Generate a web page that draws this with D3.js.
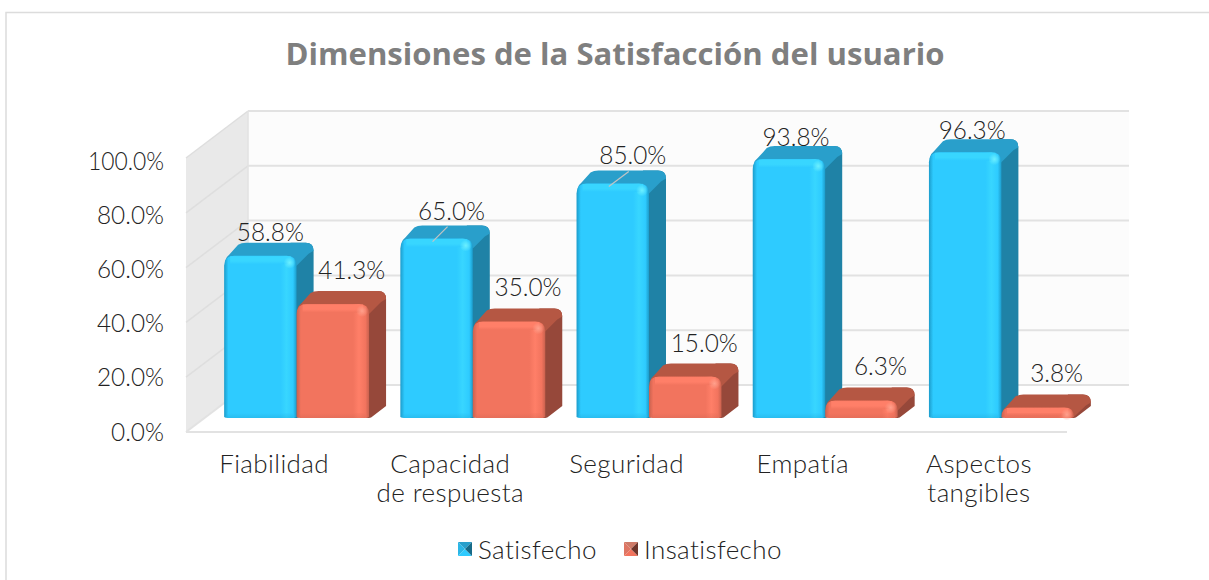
<!DOCTYPE html>
<html><head><meta charset="utf-8">
<script src="https://cdn.jsdelivr.net/npm/d3@7/dist/d3.min.js"></script>
<style>html,body{margin:0;padding:0;background:#fff}svg{display:block}text{font-family:Lato,"Open Sans",sans-serif;font-weight:300}</style>
</head><body><div id="c"></div>
<script>
const categories = [["Fiabilidad"],["Capacidad","de respuesta"],["Seguridad"],["Empatía"],["Aspectos","tangibles"]];
const satisfecho = [58.8,65.0,85.0,93.8,96.3];
const insatisfecho = [41.3,35.0,15.0,6.3,3.8];
const yTicks = [0,20,40,60,80,100];
const seriesNames = ["Satisfecho","Insatisfecho"];
const chartTitle = "Dimensiones de la Satisfacción del usuario";

const W=1209,H=580;
const ink="#222222";
const svg=d3.select("#c").append("svg").attr("width",W).attr("height",H);
const defs=svg.append("defs");
const palette=[
 {edge:"#1c9ccb",main:"#2ecbff",hi:"#38d6ff",top:"#299fcb",side:"#1f82a6",corner:"#6cf0ff",topHi:"#2aa9d6"},
 {edge:"#c9614e",main:"#f2745e",hi:"#ff7f68",top:"#b55743",side:"#96483a",corner:"#ffa08c",topHi:"#c25f4a"}];
palette.forEach((p,i)=>{
  const g=defs.append("linearGradient").attr("id","f"+i);
  [[0,p.edge],[.06,p.main],[.78,p.main],[.86,p.hi],[.95,p.main],[1,p.edge]].forEach(s=>g.append("stop").attr("offset",s[0]).attr("stop-color",s[1]));
  const t=defs.append("linearGradient").attr("id","t"+i).attr("x1",0).attr("x2",0).attr("y1",0).attr("y2",1);
  t.append("stop").attr("offset",0).attr("stop-color",p.hi);
  t.append("stop").attr("offset",.6).attr("stop-color",p.hi);
  t.append("stop").attr("offset",1).attr("stop-color",p.main);
  const b=defs.append("linearGradient").attr("id","b"+i).attr("x1",0).attr("x2",0).attr("y1",0).attr("y2",1);
  b.append("stop").attr("offset",0).attr("stop-color",p.main);
  b.append("stop").attr("offset",1).attr("stop-color",p.edge);
  defs.append("radialGradient").attr("id","c"+i).call(r=>{
    r.append("stop").attr("offset",0).attr("stop-color",p.corner);
    r.append("stop").attr("offset",1).attr("stop-color",p.corner).attr("stop-opacity",0);
  });
});

svg.append("rect").attr("x",6).attr("y",12.5).attr("width",W+10).attr("height",H+10).attr("fill","#fff").attr("stroke","#dcdcdc").attr("stroke-width",1.5);

svg.append("text").attr("x",615).attr("y",65).attr("text-anchor","middle").attr("font-size",31)
  .style("font-weight",700).attr("fill","#7f7f7f").attr("textLength",659).attr("lengthAdjust","spacingAndGlyphs").style("font-family","'Open Sans',sans-serif").text(chartTitle);

// Geometry of the 3D box
const wallDx=62,wallDy=47;
const y=d3.scaleLinear().domain([0,100]).range([432,158]);
const yLabel=d3.scaleLinear().domain([0,100]).range([440.5,169.5]);
const x0=186,x1=1067;
const xLabel=d3.scaleBand().domain(d3.range(categories.length)).range([x0,x1]);

const wall=svg.append("g");
wall.append("rect").attr("x",x0+wallDx).attr("y",y(100)-wallDy).attr("width",x1-x0).attr("height",y(0)-y(100)).attr("fill","#fcfcfc");
wall.append("path").attr("d",`M${x0},${y(0)}L${x0},${y(100)}L${x0+wallDx},${y(100)-wallDy}L${x0+wallDx},${y(0)-wallDy}Z`).attr("fill","#e9e9e9");
const gridCol="#e2e2e2";
yTicks.forEach(t=>{
  wall.append("line").attr("x1",x0+wallDx).attr("x2",x1+wallDx).attr("y1",y(t)-wallDy).attr("y2",y(t)-wallDy).attr("stroke",gridCol).attr("stroke-width",2);
  wall.append("line").attr("x1",x0).attr("x2",x0+wallDx).attr("y1",y(t)).attr("y2",y(t)-wallDy).attr("stroke",t?"#dedede":gridCol).attr("stroke-width",t?1.5:2);
});
wall.append("line").attr("x1",x0+wallDx).attr("x2",x0+wallDx).attr("y1",y(100)-wallDy).attr("y2",y(0)-wallDy).attr("stroke",gridCol).attr("stroke-width",1.5);
wall.append("line").attr("x1",x0).attr("x2",x1).attr("y1",y(0)).attr("y2",y(0)).attr("stroke",gridCol).attr("stroke-width",2);

// Percent text: tall glyphs squeezed to the reference's narrower widths
const pct=d=>d.toFixed(1)+"%";
const pctLen=s=>({4:53,5:67,6:76})[s.length];
function pctText(sel,s){
  sel.attr("font-size",25.5).attr("fill",ink).attr("textLength",pctLen(s)).attr("lengthAdjust","spacingAndGlyphs").text(s);
}

// Y tick labels
yTicks.forEach(d=>{
  svg.append("text").attr("x",164).attr("y",yLabel(d)).attr("text-anchor","end").call(pctText,pct(d));
});

// Bars
const barX=d3.scaleBand().domain(d3.range(categories.length)).range([208.5,1089.5]).paddingInner(.1775).paddingOuter(.08875);
const sub=d3.scaleBand().domain([0,1]).range([0,barX.bandwidth()]);
const barH=d3.scaleLinear().domain([0,100]).range([418,142]);
const dx=17,dy=13,r=10;
const series=[satisfecho,insatisfecho];
const bars=svg.append("g");
categories.forEach((c,ci)=>{
  series.forEach((vals,si)=>{
    const p=palette[si], v=vals[ci];
    const L=barX(ci)+sub(si), w=sub.bandwidth(), R=L+w, T=barH(v), B=barH(0);
    const g=bars.append("g");
    const rr=Math.min(r,(B-T)*.9);
    const rb=Math.min(8,(B-T)*.9+2);
    // side
    g.append("path").attr("d",`M${R-3},${T+4}L${R-3},${B}L${R},${B}Q${R+2},${B} ${R+4},${B-2}L${R+dx},${B-dy+1}L${R+dx},${T-dy+rb}Q${R+dx},${T-dy} ${R+dx-rb},${T-dy}L${R-6},${T-dy}Z`).attr("fill",p.side);
    // top
    g.append("path").attr("d",`M${L+1},${T+5}Q${L+2},${T+1} ${L+5},${T-1}L${L+dx-3},${T-dy+2}Q${L+dx},${T-dy} ${L+dx+5},${T-dy}L${R+dx-rb},${T-dy}Q${R+dx},${T-dy} ${R+dx},${T-dy+rb}L${R+dx-5},${T-dy+rb+3}L${R},${T+rr}L${L+rr},${T+rr}Z`).attr("fill",p.top);
    // front body
    g.append("path").attr("d",`M${L},${B-1}L${L},${T+rr}Q${L},${T} ${L+rr},${T}L${R-rr},${T}Q${R},${T} ${R},${T+rr}L${R},${B-1}Q${R-1},${B} ${R-4},${B}L${L+4},${B}Q${L+1},${B} ${L},${B-1}Z`).attr("fill",`url(#f${si})`);
    // top bevel
    g.append("rect").attr("x",L+rr*.6).attr("y",T+.5).attr("width",w-rr*1.2).attr("height",Math.min(rr*.8,8)).attr("fill",`url(#t${si})`);
    // bottom bevel
    g.append("rect").attr("x",L+3).attr("y",B-5).attr("width",w-6).attr("height",5).attr("fill",`url(#b${si})`).attr("opacity",.3);
    // corner highlight
    g.append("circle").attr("cx",R-7).attr("cy",T+7).attr("r",6).attr("fill",`url(#c${si})`);
  });
});

// Manually placed data labels: [x shift from front-centre of bar, baseline shift from bar top]
const labelOffsets=[
 [[10,-15],[19,-25]],
 [[15,-19],[19,-25]],
 [[20,-19],[19,-25]],
 [[7,-13],[19,-26]],
 [[7,-13],[19,-26]]];
const labels=svg.append("g");
categories.forEach((c,ci)=>{
  series.forEach((vals,si)=>{
    const v=vals[ci], w=sub.bandwidth(), cx=barX(ci)+sub(si)+w/2, T=barH(v);
    const off=labelOffsets[ci][si];
    if(off[0]>=15&&si===0){
      labels.append("line").attr("x1",cx-4).attr("y1",T+3).attr("x2",cx+off[0]-4).attr("y2",T-12).attr("stroke","#c4c4c4").attr("stroke-width",1.2);
    }
    labels.append("text").attr("x",cx+off[0]).attr("y",T+off[1]).attr("text-anchor","middle").call(pctText,pct(v));
  });
});

// Category labels
const cat=svg.append("g");
categories.forEach((lines,i)=>{
  lines.forEach((t,j)=>{
    cat.append("text").attr("x",xLabel(i)+xLabel.bandwidth()/2).attr("y",473+j*29).attr("text-anchor","middle")
      .attr("font-size",26).attr("letter-spacing",.4).attr("fill",ink).text(t);
  });
});

// Legend
const legendX=[458,624], legendTextX=[478,644];
seriesNames.forEach((n,i)=>{
  const p=palette[i], g=svg.append("g").attr("transform",`translate(${legendX[i]},542)`), s=14;
  g.append("path").attr("d",`M0,0L${s},0L${s/2},${s/2}Z`).attr("fill",i?"#cf7a68":p.top);
  g.append("path").attr("d",`M0,0L0,${s}L${s/2},${s/2}Z`).attr("fill",i?"#de7664":"#2bb6e6");
  g.append("path").attr("d",`M0,${s}L${s},${s}L${s/2},${s/2}Z`).attr("fill",p.main);
  g.append("path").attr("d",`M${s},0L${s},${s}L${s/2},${s/2}Z`).attr("fill",i?"#6f352b":"#176a88");
  svg.append("text").attr("x",legendTextX[i]).attr("y",559).attr("font-size",26).attr("letter-spacing",.4).attr("fill",ink).text(n);
});
</script></body></html>
